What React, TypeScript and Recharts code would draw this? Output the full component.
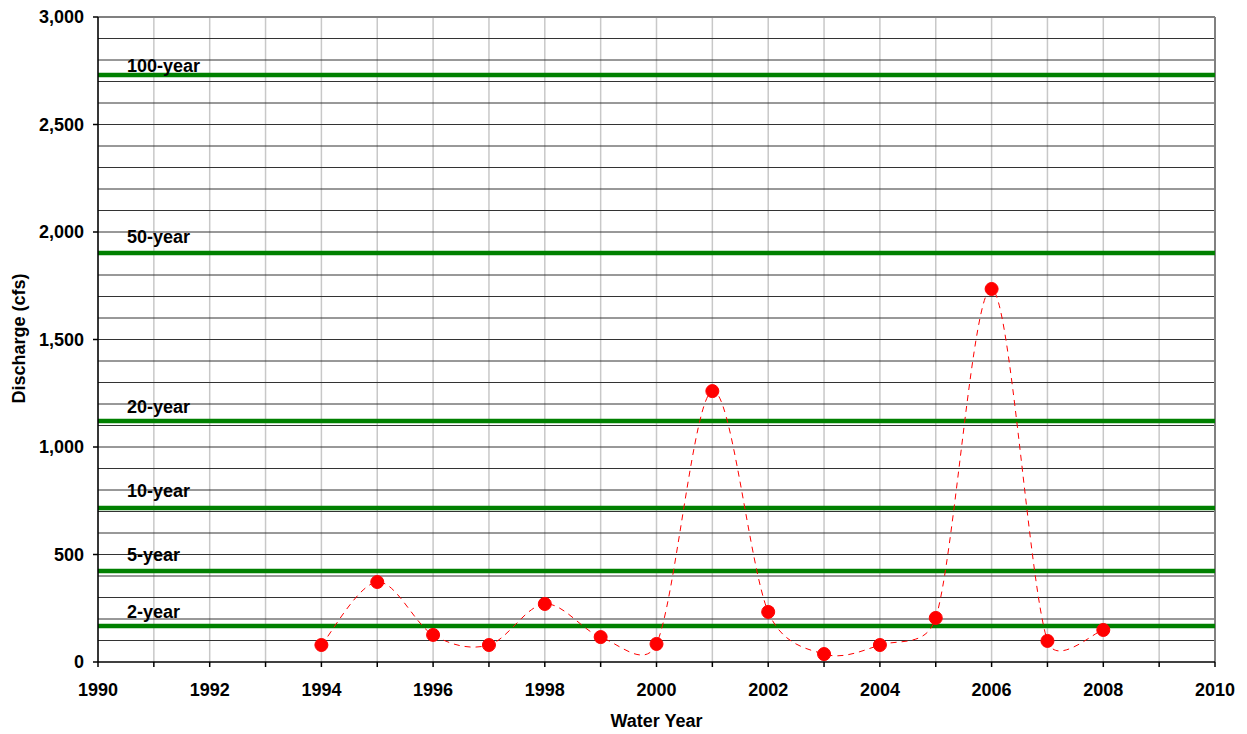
import {
  LineChart,
  Line,
  XAxis,
  YAxis,
  CartesianGrid,
  ReferenceLine,
} from "recharts";

const years = [1994, 1995, 1996, 1997, 1998, 1999, 2000, 2001, 2002, 2003, 2004, 2005, 2006, 2007, 2008];
const discharge = [79, 372, 126, 79, 270, 116, 84, 1260, 233, 37, 79, 205, 1735, 98, 149];

const floodNames = ["100-year", "50-year", "20-year", "10-year", "5-year", "2-year"];
const floodValues = [2730, 1902, 1121, 716, 423, 167];

const xTicks = [1990, 1991, 1992, 1993, 1994, 1995, 1996, 1997, 1998, 1999, 2000, 2001, 2002, 2003, 2004, 2005, 2006, 2007, 2008, 2009, 2010];
const yTicks = [0, 500, 1000, 1500, 2000, 2500, 3000];

// label placement above each green line (px), as drawn in the original
const labelRaise: Record<string, number> = {
  "100-year": 3,
  "50-year": 10,
  "20-year": 8,
  "10-year": 11,
  "5-year": 10,
  "2-year": 8,
};

const data = years.map((y, i) => ({ year: y, q: discharge[i] }));

const gridY: number[] = [];
for (let v = 100; v < 3000; v += 100) gridY.push(v);

const FONT = "'Liberation Sans', Arial, sans-serif";
const tickStyle = { fontSize: 18, fontWeight: 700, fill: "#000", fontFamily: FONT };

// Excel-like smoothed line: cardinal bezier with arms capped at half the segment
const excelCurve = (context: any) => {
  let xs: number[] = [];
  let ys: number[] = [];
  return {
    areaStart() {},
    areaEnd() {},
    lineStart() {
      xs = [];
      ys = [];
    },
    point(x: number, y: number) {
      xs.push(+x);
      ys.push(+y);
    },
    lineEnd() {
      const n = xs.length;
      if (!n) return;
      context.moveTo(xs[0], ys[0]);
      for (let i = 0; i < n - 1; i++) {
        const i0 = Math.max(i - 1, 0);
        const i3 = Math.min(i + 2, n - 1);
        const half = Math.hypot(xs[i + 1] - xs[i], ys[i + 1] - ys[i]) / 2;
        let ax = (xs[i + 1] - xs[i0]) / 6;
        let ay = (ys[i + 1] - ys[i0]) / 6;
        let bx = (xs[i3] - xs[i]) / 6;
        let by = (ys[i3] - ys[i]) / 6;
        const la = Math.hypot(ax, ay);
        if (la > half) {
          ax *= half / la;
          ay *= half / la;
        }
        const lb = Math.hypot(bx, by);
        if (lb > half) {
          bx *= half / lb;
          by *= half / lb;
        }
        context.bezierCurveTo(xs[i] + ax, ys[i] + ay, xs[i + 1] - bx, ys[i + 1] - by, xs[i + 1], ys[i + 1]);
      }
    },
  };
};

const floodLabel = (name: string) => (props: any) => {
  const vb = props.viewBox || {};
  return (
    <text
      x={vb.x + 29}
      y={vb.y - labelRaise[name]}
      fontSize={18}
      fontWeight={700}
      fontFamily={FONT}
      fill="#000"
    >
      {name}
    </text>
  );
};

export default function App() {
  return (
    <div style={{ position: "absolute", left: 0, top: 0, background: "#fff" }}>
      <LineChart
        width={1247}
        height={734}
        data={data}
        margin={{ top: 17, right: 32, bottom: 12, left: 8 }}
      >
        <CartesianGrid
          horizontal={false}
          verticalValues={xTicks}
          stroke="#c8c8c8"
          strokeWidth={1.5}
        />
        <CartesianGrid
          vertical={false}
          horizontalValues={gridY}
          stroke="#333"
          strokeWidth={1}
        />
        <XAxis
          dataKey="year"
          type="number"
          domain={[1990, 2010]}
          ticks={xTicks}
          interval={0}
          tickFormatter={(v: number) => (v % 2 === 0 ? String(v) : "")}
          tick={tickStyle}
          tickSize={5}
          tickMargin={16}
          height={60}
          axisLine={{ stroke: "#000", strokeWidth: 1.5 }}
          tickLine={{ stroke: "#000", strokeWidth: 1.5 }}
          label={{
            content: (p: any) => {
              const vb = p.viewBox || {};
              return (
                <text
                  x={vb.x + vb.width / 2}
                  y={vb.y + 65}
                  textAnchor="middle"
                  fontSize={18}
                  fontWeight={700}
                  fontFamily={FONT}
                  fill="#000"
                >
                  Water Year
                </text>
              );
            },
          }}
        />
        <YAxis
          type="number"
          domain={[0, 3000]}
          ticks={yTicks}
          interval={0}
          tickFormatter={(v: number) => v.toLocaleString("en-US")}
          tick={tickStyle}
          tickSize={5}
          tickMargin={9}
          width={90}
          axisLine={{ stroke: "#000", strokeWidth: 1.5 }}
          tickLine={{ stroke: "#000", strokeWidth: 1.5 }}
          label={{
            content: (p: any) => {
              const vb = p.viewBox || {};
              const x = vb.x + 17;
              const y = vb.y + vb.height / 2 - 1;
              return (
                <text
                  x={x}
                  y={y}
                  transform={`rotate(-90 ${x} ${y})`}
                  textAnchor="middle"
                  fontSize={18}
                  fontWeight={700}
                  fontFamily={FONT}
                  fill="#000"
                >
                  Discharge (cfs)
                </text>
              );
            },
          }}
        />
        <ReferenceLine y={3000} stroke="#808080" strokeWidth={2} />
        <ReferenceLine x={2010} stroke="#808080" strokeWidth={2} />
        {floodNames.map((name, i) => (
          <ReferenceLine
            key={name}
            y={floodValues[i]}
            stroke="#008000"
            strokeWidth={4.5}
            label={{ content: floodLabel(name) }}
          />
        ))}
        <Line
          dataKey="q"
          type={excelCurve as any}
          stroke="#ff0000"
          strokeWidth={1}
          strokeDasharray="6 5"
          dot={{ r: 6.5, fill: "#ff0000", stroke: "#ff0000", strokeWidth: 1, strokeDasharray: "" }}
          isAnimationActive={false}
        />
      </LineChart>
    </div>
  );
}
